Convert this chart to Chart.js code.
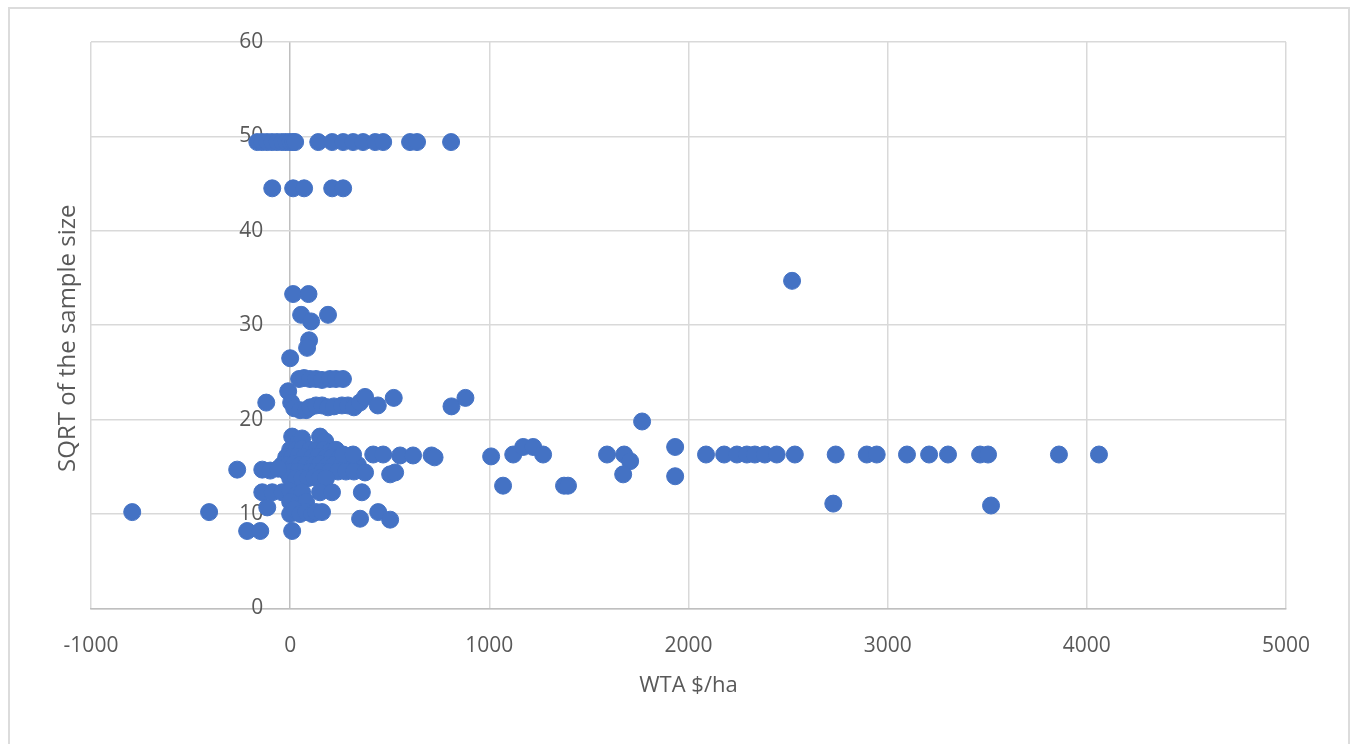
<!DOCTYPE html>
<html>
<head>
<meta charset="utf-8">
<script src="https://cdn.jsdelivr.net/npm/chart.js@4.4.1/dist/chart.umd.min.js"></script>
<style>
  html, body { margin: 0; padding: 0; background: #fff; }
  #wrap { position: relative; width: 1352px; height: 744px; overflow: hidden; }
  #frame {
    position: absolute; left: 8px; top: 7px; width: 1342px; height: 770px;
    box-sizing: border-box; border: 2px solid #dcdcdc; pointer-events: none;
  }
</style>
</head>
<body>
<div id="wrap">
  <canvas id="chart" width="1352" height="744"></canvas>
  <div id="frame"></div>
</div>
<script>
// WTA ($/ha) against square root of the sample size
const wtaValues = [
  // top band
  -165, -140, -115, -90, -65, -40, -20, 0, 15, 25, 141, 211, 266, 316, 366, 427, 467, 602, 637, 808,
  -90, 15, 70, 211, 266,
  // 26-35
  15, 92, 55, 105, 190, 95, 85, 0, 2520,
  // 21-25
  45, 70, 100, 130, 160, 200, 230, 265, -10, -120,
  5, 20, 50, 80, 100, 130, 160, 190, 220, 260, 290, 320, 350, 376, 440, 520, 810, 880,
  // 17-19
  10, 40, 60, 150, 176, 1767,
  // dense 13-17 cluster
  0, 30, 60, 100, 130, 170, 200, 230,
  -20, 10, 40, 70, 110, 140, 180, 210, 250, 280, 310,
  -40, -10, 20, 50, 80, 120, 150, 190, 220, 260, 300, 340,
  -20, 10, 40, 70, 100, 130, 160, 200, 240, 280, 320,
  0, 30, 60, 90, 120, 150, 180,
  -266, -140, -100, -60, 376, 502, 527,
  266, 316, 417, 467, 552, 617, 710, 725,
  // 16.3 band to the right
  1009, 1069, 1120, 1170, 1220, 1270, 1375, 1395, 1591, 1677, 1707, 1672, 1933, 1933,
  2088, 2179, 2243, 2293, 2333, 2383, 2443, 2534, 2739, 2727, 2895, 2945,
  3097, 3208, 3303, 3464, 3504, 3519, 3860, 4061,
  // 8-13
  -140, -90, -40, 0, 30, 60, 150, 210, 360,
  0, 40, 80, -115,
  0, 20, 50, 80, 110, 130, 160, 351, 442, 502,
  -216, -150, 10,
  -793, -407
];

const sqrtSampleSize = [
  49.4, 49.4, 49.4, 49.4, 49.4, 49.4, 49.4, 49.4, 49.4, 49.4, 49.4, 49.4, 49.4, 49.4, 49.4, 49.4, 49.4, 49.4, 49.4, 49.4,
  44.5, 44.5, 44.5, 44.5, 44.5,
  33.3, 33.3, 31.1, 30.4, 31.1, 28.4, 27.6, 26.5, 34.7,
  24.3, 24.4, 24.3, 24.3, 24.2, 24.3, 24.3, 24.3, 23.0, 21.8,
  21.8, 21.2, 21.0, 21.0, 21.3, 21.5, 21.5, 21.3, 21.4, 21.5, 21.5, 21.3, 21.8, 22.4, 21.5, 22.3, 21.4, 22.3,
  18.2, 17.6, 18.0, 18.2, 17.7, 19.8,
  16.8, 16.8, 16.9, 16.8, 16.7, 16.8, 16.6, 16.8,
  16.0, 16.0, 16.1, 16.0, 16.0, 16.1, 16.0, 16.0, 16.0, 16.0, 16.1,
  15.2, 15.2, 15.3, 15.2, 15.2, 15.2, 15.3, 15.2, 15.2, 15.2, 15.2, 15.2,
  14.5, 14.5, 14.5, 14.4, 14.5, 14.5, 14.5, 14.5, 14.5, 14.5, 14.5,
  13.8, 13.8, 13.8, 13.8, 13.9, 13.8, 13.8,
  14.7, 14.7, 14.6, 14.8, 14.4, 14.2, 14.4,
  16.3, 16.3, 16.3, 16.3, 16.2, 16.2, 16.2, 16.0,
  16.1, 13.0, 16.3, 17.1, 17.1, 16.3, 13.0, 13.0, 16.3, 16.3, 15.6, 14.2, 17.1, 14.0,
  16.3, 16.3, 16.3, 16.3, 16.3, 16.3, 16.3, 16.3, 16.3, 11.1, 16.3, 16.3,
  16.3, 16.3, 16.3, 16.3, 16.3, 10.9, 16.3, 16.3,
  12.3, 12.3, 12.3, 12.4, 12.0, 12.3, 12.3, 12.3, 12.3,
  11.3, 11.0, 11.3, 10.7,
  10.0, 10.5, 10.0, 10.2, 10.0, 10.2, 10.2, 9.5, 10.2, 9.4,
  8.2, 8.2, 8.2,
  10.2, 10.2
];

const xTickStep = 1000;
const yTickStep = 10;
const xTitle = 'WTA $/ha';
const yTitle = 'SQRT of the sample size';

const TEXT_COLOR = '#595959';
const GRID_COLOR = '#d9d9d9';
const AXIS_COLOR = '#bfbfbf';
const MARKER_COLOR = '#4472c4';

const points = wtaValues.map((x, i) => ({ x, y: sqrtSampleSize[i] }));

// y axis title sits left of the plot area, outside the axis box
const yTitlePlugin = {
  id: 'yTitle',
  afterDraw(chart) {
    const { ctx, chartArea } = chart;
    ctx.save();
    ctx.translate(chartArea.left - 23, (chartArea.top + chartArea.bottom) / 2 + 13);
    ctx.rotate(-Math.PI / 2);
    ctx.font = '24px "Open Sans"';
    ctx.fillStyle = TEXT_COLOR;
    ctx.textAlign = 'center';
    ctx.textBaseline = 'middle';
    ctx.fillText(yTitle, 0, 0);
    ctx.restore();
  }
};

new Chart(document.getElementById('chart'), {
  type: 'scatter',
  data: {
    datasets: [{
      data: points,
      backgroundColor: MARKER_COLOR,
      borderColor: MARKER_COLOR,
      borderWidth: 1,
      pointRadius: 8.5,
      pointHoverRadius: 8.5
    }]
  },
  options: {
    responsive: false,
    animation: false,
    events: [],
    layout: {
      padding: { left: 91, right: 66, top: 42, bottom: 41 }
    },
    plugins: {
      legend: { display: false },
      tooltip: { enabled: false }
    },
    scales: {
      x: {
        type: 'linear',
        position: 'bottom',
        min: -1000,
        max: 5000,
        ticks: {
          stepSize: xTickStep,
          color: TEXT_COLOR,
          font: { family: 'Open Sans', size: 21 },
          padding: 25,
          maxRotation: 0,
          callback: (value) => String(value)
        },
        grid: {
          color: (ctx) => (ctx.tick && ctx.tick.value === 0 ? AXIS_COLOR : GRID_COLOR),
          lineWidth: 1.5,
          drawTicks: false
        },
        border: { display: true, color: AXIS_COLOR, width: 1.5 },
        title: {
          display: true,
          text: xTitle,
          color: TEXT_COLOR,
          font: { family: 'Open Sans', size: 22 },
          padding: { top: -11, bottom: 4 }
        }
      },
      y: {
        type: 'linear',
        // labels hang just left of the x = 0 axis line
        position: { x: -135 },
        min: 0,
        max: 60,
        ticks: {
          stepSize: yTickStep,
          color: TEXT_COLOR,
          font: { family: 'Open Sans', size: 21 },
          callback: (value) => String(value)
        },
        grid: {
          color: GRID_COLOR,
          lineWidth: 1.5,
          drawTicks: false
        },
        border: { display: false }
      }
    }
  },
  plugins: [yTitlePlugin]
});
</script>
</body>
</html>
